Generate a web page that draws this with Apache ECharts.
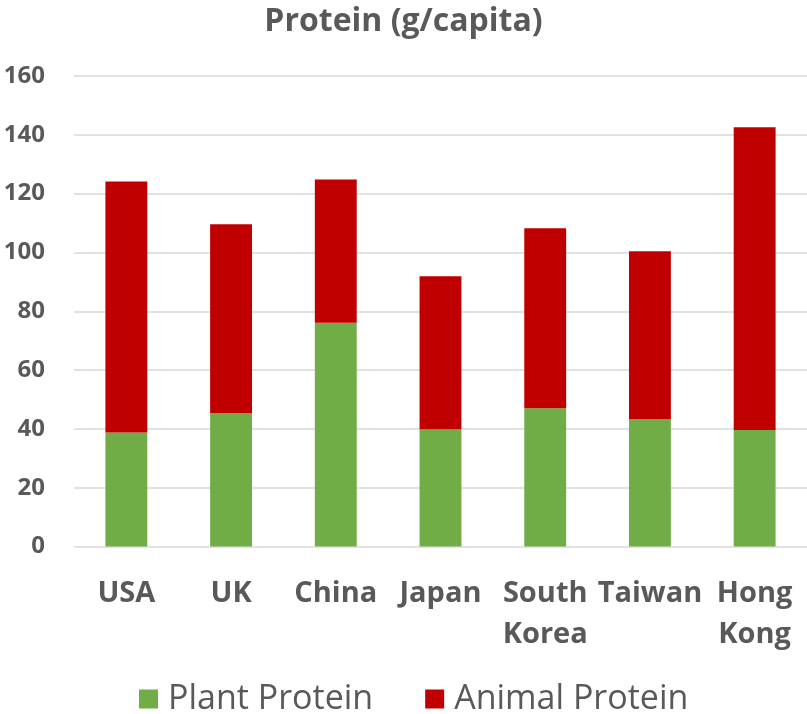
<!DOCTYPE html>
<html>
<head>
<meta charset="utf-8">
<script src="https://cdn.jsdelivr.net/npm/echarts@6/dist/echarts.min.js"></script>
<style>html,body{margin:0;padding:0;background:#fff}#c{width:807px;height:714px}</style>
</head>
<body>
<div id="c"></div>
<script>
const categories = ['USA', 'UK', 'China', 'Japan', 'South\nKorea', 'Taiwan', 'Hong\nKong'];
const plantProtein = [38.8, 45.4, 76.1, 39.9, 47.0, 43.4, 39.6];
const animalProtein = [85.3, 64.2, 48.7, 52.0, 61.2, 57.0, 103.0];
const yTicks = [0, 20, 40, 60, 80, 100, 120, 140, 160];

const chart = echarts.init(document.getElementById('c'), null, {renderer: 'canvas'});
const FONT = 'Open Sans';
chart.setOption({
  animation: false,
  title: {
    text: 'Protein (g/capita)', left: 'center', top: 1,
    textStyle: {fontFamily: FONT, fontSize: 32, fontWeight: 'bold', color: '#595959'}
  },
  legend: {
    bottom: -7, left: 134, itemWidth: 19, itemHeight: 19, itemGap: 52,
    icon: 'rect',
    textStyle: {fontFamily: FONT, fontSize: 34, color: '#595959', padding: [0, 0, 0, 5]},
    data: ['Plant Protein', 'Animal Protein']
  },
  grid: {left: 74, right: 0, top: 76, bottom: 167.5, containLabel: false},
  xAxis: {
    type: 'category', data: categories,
    axisLine: {show: false}, axisTick: {show: false},
    axisLabel: {fontFamily: FONT, fontSize: 29, fontWeight: 'bold', color: '#595959', margin: 27, lineHeight: 41, interval: 0}
  },
  yAxis: {
    type: 'value', min: 0, max: 160, interval: 20,
    axisLine: {show: false}, axisTick: {show: false},
    splitLine: {lineStyle: {color: '#d9d9d9', width: 1.5}},
    axisLabel: {fontFamily: FONT, fontSize: 24, fontWeight: 'bold', color: '#595959', margin: 29,
      formatter: v => yTicks.includes(v) ? String(v) : ''}
  },
  series: [
    {name: 'Plant Protein', type: 'bar', stack: 'p', data: plantProtein, barWidth: '40%',
     itemStyle: {color: '#70ad47'}},
    {name: 'Animal Protein', type: 'bar', stack: 'p', data: animalProtein, barWidth: '40%',
     itemStyle: {color: '#c00000'}}
  ]
});
</script>
</body>
</html>
